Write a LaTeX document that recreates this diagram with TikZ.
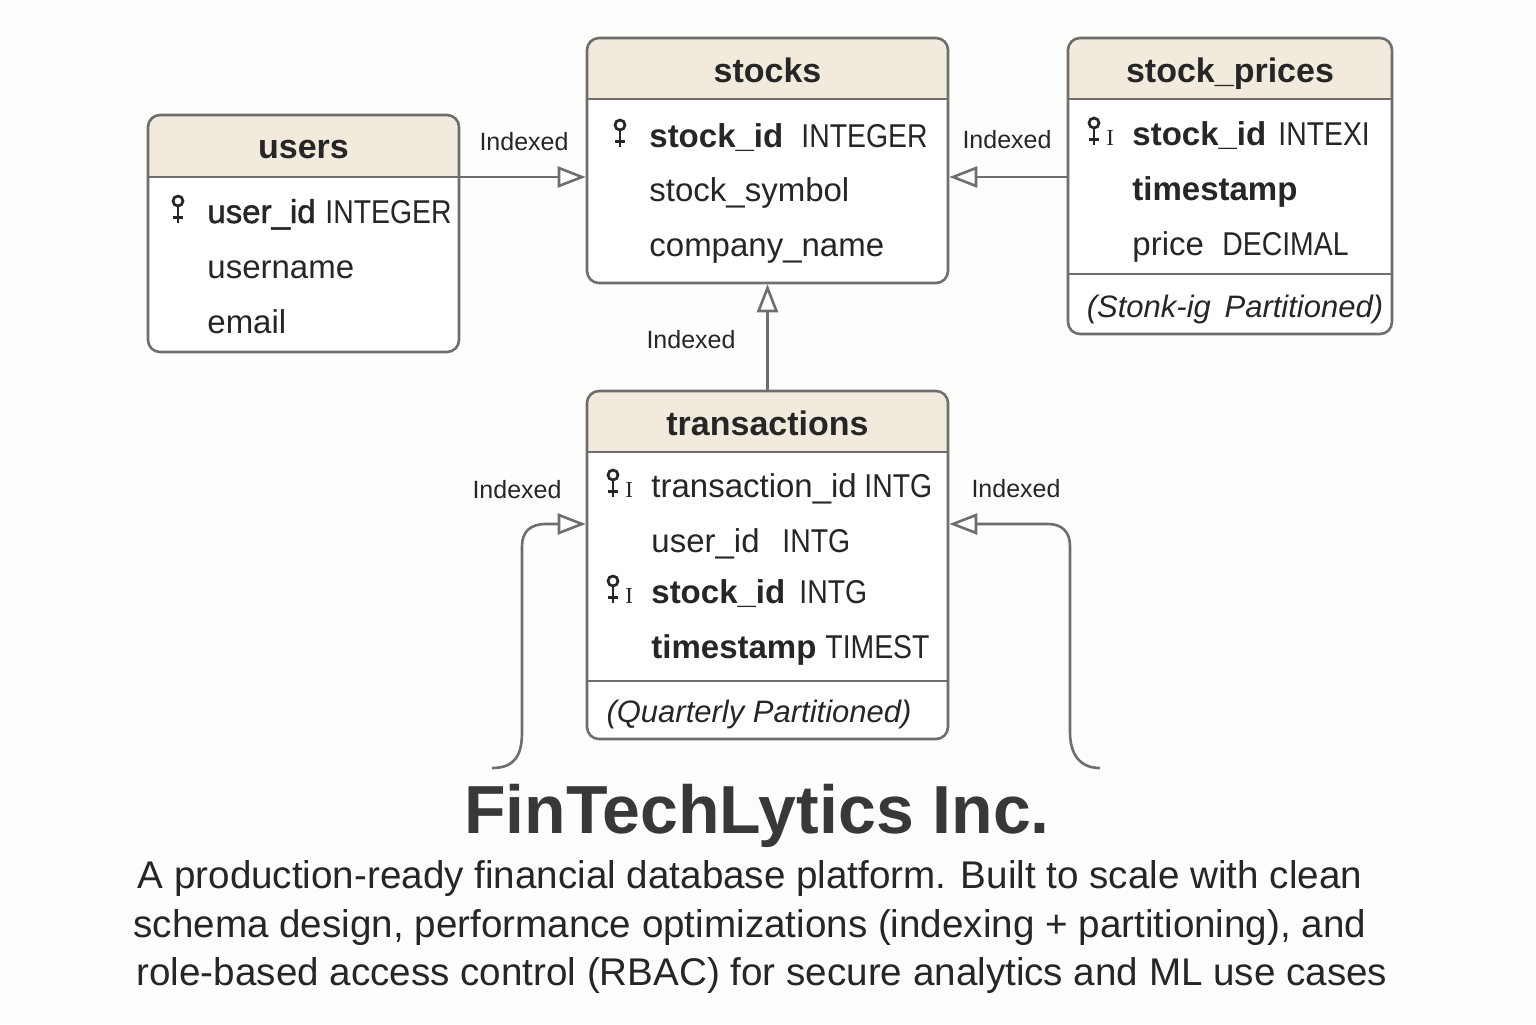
\documentclass[tikz,border=0pt]{standalone}
\usepackage{fontspec}
\setmainfont{Liberation Sans}
\newfontfamily\typefont[FakeStretch=0.86]{Liberation Sans}
\newfontfamily\semib[FakeBold=1.4]{Liberation Sans}
\newfontfamily\serifI{Liberation Serif}
\usetikzlibrary{arrows.meta,fit}
\definecolor{hdr}{HTML}{F2EBDD}
\definecolor{edge}{HTML}{6E6E6E}
\definecolor{ink}{HTML}{262626}
\definecolor{bg}{HTML}{FDFDFB}
\definecolor{titleink}{HTML}{383838}
\tikzset{
  tbl/.style={draw=edge, line width=1.3pt, rounded corners=6pt, inner sep=0pt},
  ttl/.style={font=\fontsize{17}{20}\selectfont\bfseries, text=ink, anchor=base, inner sep=0pt},
  fld/.style={font=\fontsize{16.5}{20}\selectfont, text=ink, anchor=base west, inner sep=0pt},
  flds/.style={font=\fontsize{16.5}{20}\selectfont\semib, text=ink, anchor=base west, inner sep=0pt},
  fldb/.style={font=\fontsize{16.5}{20}\selectfont\bfseries, text=ink, anchor=base west, inner sep=0pt},
  typ/.style={font=\fontsize{16.5}{20}\selectfont\typefont, text=ink, anchor=base west, inner sep=0pt},
  idx/.style={font=\fontsize{11.5}{13}\selectfont\serifI, text=ink, anchor=base west, inner sep=0pt},
  note/.style={font=\fontsize{15.5}{20}\selectfont\itshape, text=ink, anchor=base, inner sep=0pt},
  lbl/.style={font=\fontsize{12.5}{15}\selectfont, text=ink, inner sep=0pt},
  sub/.style={font=\fontsize{19.3}{24}\selectfont, text=ink, anchor=base, inner sep=0pt},
  conn/.style={draw=edge, line width=1.3pt, -{Triangle[open, length=14pt, width=10.5pt]}},
  sepline/.style={draw=edge, line width=1.3pt},
  keyicon/.pic={
    \draw[ink, line width=1.35pt] (0,-22) circle[radius=2.5pt];
    \draw[ink, line width=1.35pt] (0,-17) -- (0,0);
    \draw[ink, line width=1.35pt] (-5,-5.5) -- (5,-5.5);
  }
}
\newcommand{\ertable}[6]{%
  \begin{scope}
    \clip[rounded corners=6pt] (#2,#3) rectangle (#4,#5);
    \fill[white] (#2,#3) rectangle (#4,#5);
    \fill[hdr] (#2,#3) rectangle (#4,#6);
  \end{scope}
  \coordinate (#1-a) at (#2,#3);
  \coordinate (#1-b) at (#4,#5);
  \node[tbl, fit=(#1-a)(#1-b)] (#1) {};
  \draw[sepline] (#2,#6) -- (#4,#6);
}
\begin{document}
\begin{tikzpicture}[x=0.5pt, y=-0.5pt]
\fill[bg] (0,0) rectangle (1536,1024);
\useasboundingbox (0,0) rectangle (1536,1024);

% ---------- users ----------
\ertable{users}{148}{115}{459}{352}{177}
\node[ttl] (users-t) at (303.5,158) {users};
\pic at (178,223) {keyicon};
\node[flds] (users-f1) at (207,223) {user\_id};
\node[typ]  (users-y1) at (325,223) {INTEGER};
\node[fld]  (users-f2) at (207,278) {username};
\node[fld]  (users-f3) at (207,333) {email};

% ---------- stocks ----------
\ertable{stocks}{587}{38}{948}{283}{99}
\node[ttl] (stocks-t) at (767.5,82) {stocks};
\pic at (620,147) {keyicon};
\node[fldb] (stocks-f1) at (649,147) {stock\_id};
\node[typ]  (stocks-y1) at (801,147) {INTEGER};
\node[fld]  (stocks-f2) at (649,201) {stock\_symbol};
\node[fld]  (stocks-f3) at (649,256) {company\_name};

% ---------- stock_prices ----------
\ertable{prices}{1068}{38}{1392}{334}{99}
\draw[sepline] (1068,274) -- (1392,274);
\node[ttl] (prices-t) at (1230,82) {stock\_prices};
\pic at (1094,145) {keyicon};
\node[idx]  (prices-i1) at (1106,145) {I};
\node[fldb] (prices-f1) at (1132,145) {stock\_id};
\node[typ]  (prices-y1) at (1278,145) {INTEXI};
\node[fldb] (prices-f2) at (1132,200) {timestamp};
\node[fld]  (prices-f3) at (1132,255) {price};
\node[typ]  (prices-y3) at (1222,255) {DECIMAL};
\node[note] (prices-n) at (1235,317) {(Stonk-ig\, Partitioned)};

% ---------- transactions ----------
\ertable{trans}{587}{391}{948}{739}{452}
\draw[sepline] (587,681) -- (948,681);
\node[ttl] (trans-t) at (767.5,435) {transactions};
\pic at (613,497) {keyicon};
\node[idx]  (trans-i1) at (625,497) {I};
\node[fld]  (trans-f1) at (651,497) {transaction\_id};
\node[typ]  (trans-y1) at (864,497) {INTG};
\node[fld]  (trans-f2) at (651,552) {user\_id};
\node[typ]  (trans-y2) at (782,552) {INTG};
\pic at (613,603) {keyicon};
\node[idx]  (trans-i3) at (625,603) {I};
\node[fldb] (trans-f3) at (651,603) {stock\_id};
\node[typ]  (trans-y3) at (799,603) {INTG};
\node[fldb] (trans-f4) at (651,658) {timestamp};
\node[typ]  (trans-y4) at (825,658) {TIMEST};
\node[note] (trans-n) at (759,722) {(Quarterly Partitioned)};

% ---------- connectors ----------
\coordinate (h1) at (0,177);
\coordinate (h2) at (0,524);
\coordinate (lstart) at (492,768);
\coordinate (rstart) at (1100,768);
\draw[conn] (users.east |- h1) -- (stocks.west |- h1);
\draw[conn] (prices.west |- h1) -- (stocks.east |- h1);
\draw[conn] (trans.north) -- (stocks.south);
\draw[conn] (lstart) .. controls (515,768) and (522,755) .. (522,732)
  -- (522,546) .. controls (522,532) and (530,524) .. (546,524)
  -- (trans.west |- h2);
\draw[conn] (rstart) .. controls (1078,768) and (1070,752) .. (1070,732)
  -- (1070,546) .. controls (1070,532) and (1062,524) .. (1048,524)
  -- (trans.east |- h2);

\node[lbl] (l1) at (524,142) {Indexed};
\node[lbl] (l2) at (1007,140) {Indexed};
\node[lbl] (l3) at (691,340) {Indexed};
\node[lbl] (l4) at (517,490) {Indexed};
\node[lbl] (l5) at (1016,489) {Indexed};

% ---------- title ----------
\node[font=\fontsize{34}{40}\selectfont\bfseries, text=titleink, anchor=base, inner sep=0pt] (title) at (757,833) {FinTechLytics Inc.};
\node[sub] (sub1) at (750,888) {A production-ready financial database platform. Built to scale with clean};
\node[sub] (sub2) at (750,937) {schema design, performance optimizations (indexing + partitioning), and};
\node[sub] (sub3) at (762,985) {role-based access control (RBAC) for secure analytics and ML use cases};
\end{tikzpicture}
\end{document}
